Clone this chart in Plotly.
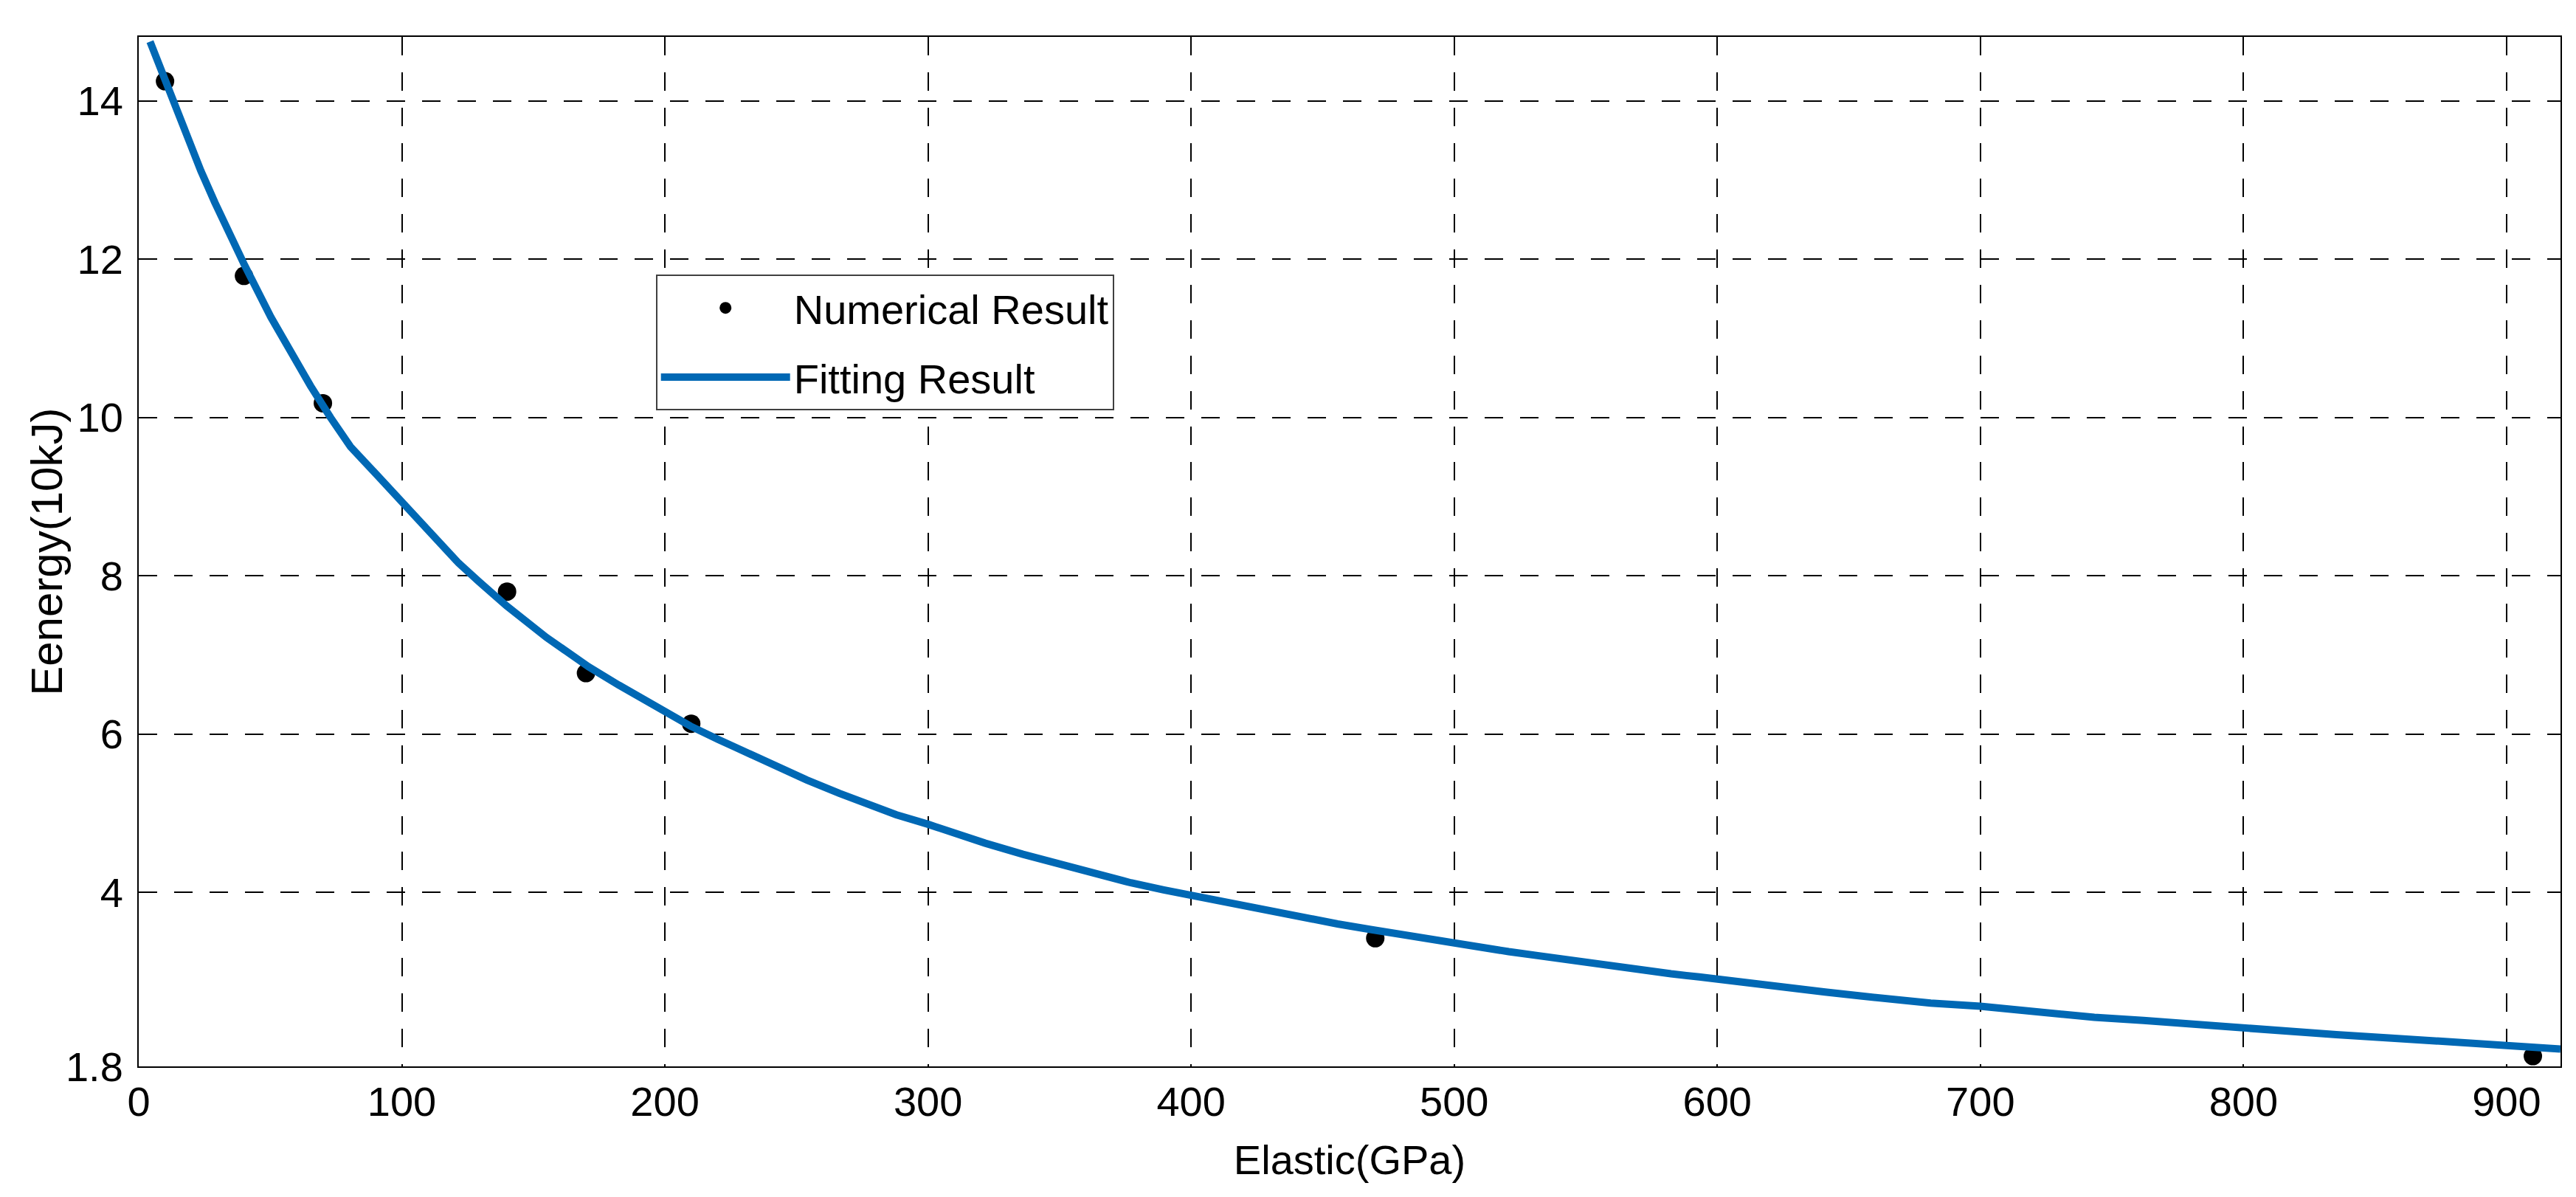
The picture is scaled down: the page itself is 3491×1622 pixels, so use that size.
import plotly.graph_objects as go

# Numerical results
num_x = [10, 40, 70, 140, 170, 210, 470, 910]
num_y = [14.25, 11.79, 10.18, 7.80, 6.77, 6.13, 3.42, 1.93]

# Fitted curve
fit_x = [4.3, 10, 17.5, 23.6, 28.9, 36.5, 40.3, 50.2, 57.8, 65.3, 72.9, 80.5, 91.2, 100,
         107.9, 121.6, 129.2, 139.8, 155, 171, 182.4, 200, 209.7, 220.4, 230.7, 240.5,
         253.9, 266.4, 277.1, 287.9, 300, 309.3, 321.8, 336.1, 346.8, 357.5, 366.4, 377.1,
         389.6, 400, 409.3, 420, 434.3, 445, 455.7, 468.2, 480.7, 489.6, 500, 510.3, 520.7,
         531.7, 542.4, 551.7, 561, 571.7, 582.4, 593.1, 600, 606.4, 617, 630.4, 641, 654.4,
         667.8, 681.1, 700, 713.9, 727.2, 743.3, 762, 780.6, 800, 817.9, 835.3, 855.3, 878,
         900, 920.5]
fit_y = [14.75, 14.25, 13.6, 13.12, 12.72, 12.18, 11.92, 11.27, 10.82, 10.40, 10.0, 9.63,
         9.25, 8.93, 8.63, 8.16, 7.93, 7.62, 7.22, 6.85, 6.62, 6.27, 6.10, 5.93, 5.77, 5.61,
         5.42, 5.25, 5.12, 4.98, 4.86, 4.75, 4.62, 4.48, 4.38, 4.29, 4.21, 4.12, 4.03, 3.96,
         3.90, 3.83, 3.74, 3.67, 3.60, 3.53, 3.46, 3.41, 3.35, 3.30, 3.25, 3.20, 3.15, 3.10,
         3.06, 3.01, 2.97, 2.93, 2.90, 2.87, 2.83, 2.78, 2.74, 2.69, 2.64, 2.60, 2.56, 2.51,
         2.47, 2.42, 2.38, 2.33, 2.29, 2.24, 2.20, 2.16, 2.11, 2.06, 2.02]

x_ticks = [0, 100, 200, 300, 400, 500, 600, 700, 800, 900]
y_ticks = [1.8, 4, 6, 8, 10, 12, 14]
y_tick_text = ["1.8", "4", "6", "8", "10", "12", "14"]

FONT = "Liberation Sans Narrow, Arial Narrow, Liberation Sans, Arial, sans-serif"
BLUE = "#0068B4"

fig = go.Figure()
fig.add_trace(go.Scatter(
    x=num_x, y=num_y, mode="markers", name="Numerical Result",
    marker=dict(color="black", size=25, line=dict(width=0)),
    legendgroup="a"))
fig.add_trace(go.Scatter(
    x=fit_x, y=fit_y, mode="lines", name="Fitting Result",
    line=dict(color=BLUE, width=10), legendgroup="b"))

fig.update_layout(
    width=3491, height=1622,
    margin=dict(l=180, r=29, t=42, b=185),
    paper_bgcolor="white", plot_bgcolor="white",
    font=dict(family=FONT, size=56, color="black"),
    showlegend=True,
    legend=dict(
        x=0.2135, y=0.769, xanchor="left", yanchor="top",
        bgcolor="white", bordercolor="#404040", borderwidth=2,
        font=dict(family=FONT, size=56, color="black"),
        itemwidth=175, tracegroupgap=18,
    ),
    annotations=[dict(
        text="Eenergy(10kJ)", textangle=-90,
        xref="paper", yref="paper", x=-0.038, y=0.5,
        xanchor="center", yanchor="middle", showarrow=False,
        font=dict(family="Liberation Sans, Arial, sans-serif", size=60, color="black"),
    )],
)

fig.update_xaxes(
    range=[0, 920.5], tickvals=x_ticks, ticks="", ticklabelstandoff=-2,
    showline=True, linecolor="black", linewidth=2, mirror=True,
    showgrid=True, gridcolor="black", gridwidth=2, griddash="25px,23px",
    zeroline=False,
    title=dict(text="Elastic(GPa)", font=dict(family=FONT, size=56), standoff=29),
)
fig.update_yaxes(
    range=[1.8, 14.81], tickvals=y_ticks, ticktext=y_tick_text, ticks="",
    ticklabelstandoff=8,
    showline=True, linecolor="black", linewidth=2, mirror=True,
    showgrid=True, gridcolor="black", gridwidth=2, griddash="25px,23px",
    zeroline=False,
)

fig.write_html("out.html")
